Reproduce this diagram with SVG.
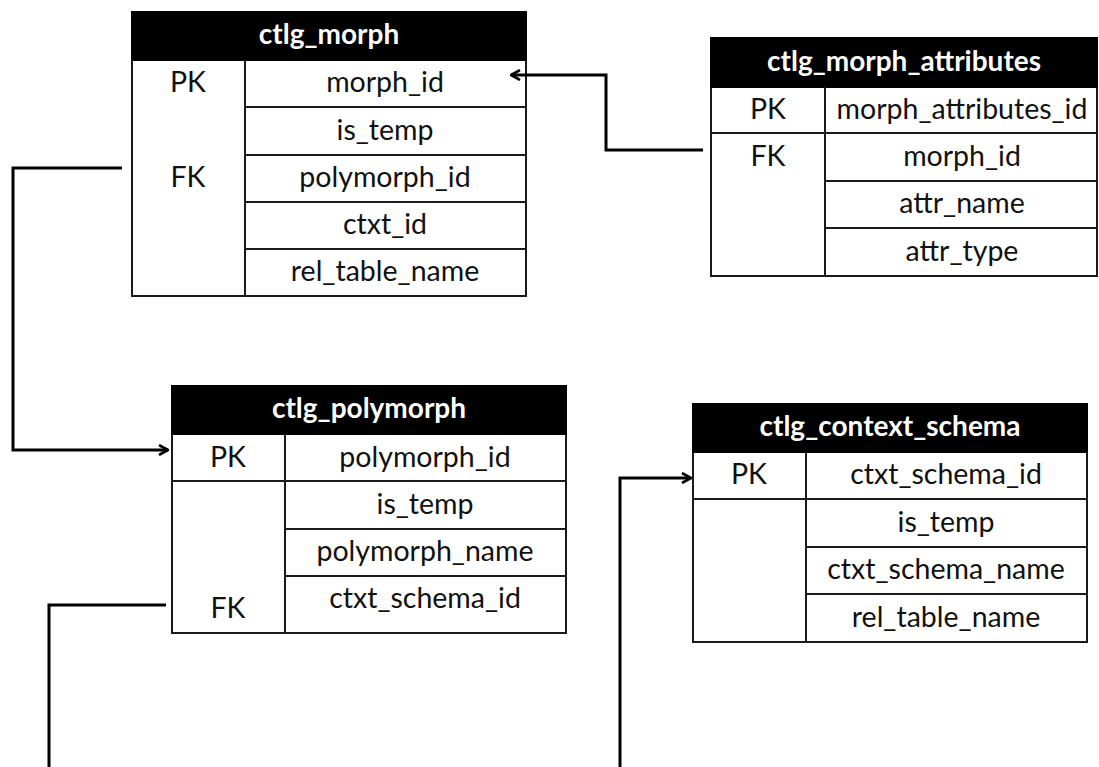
<svg xmlns="http://www.w3.org/2000/svg" width="1099" height="767" viewBox="0 0 1099 767">
  <style>
    .frame { fill: #ffffff; stroke: #1a1a1a; stroke-width: 2; }
    .head { fill: #000000; stroke: #000000; stroke-width: 2; }
    .rule { stroke: #1a1a1a; stroke-width: 2; fill: none; }
    .title { font-family: Lato, "Liberation Sans", sans-serif; font-weight: bold; font-size: 28px; fill: #ffffff; text-anchor: middle; }
    .cell { font-family: Lato, "Liberation Sans", sans-serif; font-size: 28.5px; fill: #111111; text-anchor: middle; }
    .link { stroke: #000000; stroke-width: 3; fill: none; }
  </style>
  <defs>
    <marker id="arrow" viewBox="0 0 12 12" refX="11" refY="6" markerWidth="12" markerHeight="12" markerUnits="userSpaceOnUse" orient="auto">
      <path d="M2,1 L11,6 L2,11" fill="none" stroke="#000000" stroke-width="2.6"/>
    </marker>
  </defs>

  <!-- ctlg_morph -->
  <g id="ctlg_morph">
    <rect class="frame" x="132" y="12" width="394" height="284"/>
    <rect class="head" x="132" y="12" width="394" height="48"/>
    <text class="title" x="329" y="44">ctlg_morph</text>
    <line class="rule" x1="245" y1="60" x2="245" y2="296"/>
    <path class="rule" d="M245,107 H526 M245,155 H526 M245,202 H526 M245,249 H526"/>
    <text class="cell" x="188" y="92">PK</text>
    <text class="cell" x="188" y="187">FK</text>
    <text class="cell" x="385" y="92">morph_id</text>
    <text class="cell" x="385" y="140">is_temp</text>
    <text class="cell" x="385" y="187">polymorph_id</text>
    <text class="cell" x="385" y="234">ctxt_id</text>
    <text class="cell" x="385" y="281">rel_table_name</text>
  </g>

  <!-- ctlg_morph_attributes -->
  <g id="ctlg_morph_attributes">
    <rect class="frame" x="711" y="38" width="386" height="238"/>
    <rect class="head" x="711" y="38" width="386" height="49"/>
    <text class="title" x="904" y="71">ctlg_morph_attributes</text>
    <line class="rule" x1="825" y1="87" x2="825" y2="276"/>
    <path class="rule" d="M711,133 H1097 M825,181 H1097 M825,228 H1097"/>
    <text class="cell" x="768" y="119">PK</text>
    <text class="cell" x="768" y="166">FK</text>
    <text class="cell" x="962" y="119">morph_attributes_id</text>
    <text class="cell" x="962" y="166">morph_id</text>
    <text class="cell" x="962" y="213">attr_name</text>
    <text class="cell" x="962" y="261">attr_type</text>
  </g>

  <!-- ctlg_polymorph -->
  <g id="ctlg_polymorph">
    <rect class="frame" x="172" y="386" width="394" height="247"/>
    <rect class="head" x="172" y="386" width="394" height="48"/>
    <text class="title" x="369" y="418">ctlg_polymorph</text>
    <line class="rule" x1="285" y1="434" x2="285" y2="633"/>
    <path class="rule" d="M172,481 H566 M285,529 H566 M285,576 H566"/>
    <text class="cell" x="228" y="467">PK</text>
    <text class="cell" x="228" y="618">FK</text>
    <text class="cell" x="425" y="467">polymorph_id</text>
    <text class="cell" x="425" y="514">is_temp</text>
    <text class="cell" x="425" y="561">polymorph_name</text>
    <text class="cell" x="425" y="608">ctxt_schema_id</text>
  </g>

  <!-- ctlg_context_schema -->
  <g id="ctlg_context_schema">
    <rect class="frame" x="693" y="404" width="394" height="238"/>
    <rect class="head" x="693" y="404" width="394" height="48"/>
    <text class="title" x="890" y="436">ctlg_context_schema</text>
    <line class="rule" x1="806" y1="452" x2="806" y2="642"/>
    <path class="rule" d="M693,499 H1087 M806,547 H1087 M806,594 H1087"/>
    <text class="cell" x="749" y="484">PK</text>
    <text class="cell" x="946" y="484">ctxt_schema_id</text>
    <text class="cell" x="946" y="532">is_temp</text>
    <text class="cell" x="946" y="579">ctxt_schema_name</text>
    <text class="cell" x="946" y="627">rel_table_name</text>
  </g>

  <!-- foreign key connectors -->
  <g id="connectors">
    <path class="link" d="M122,168 H13 V450 H168" marker-end="url(#arrow)"/>
    <path class="link" d="M703,150 H606 V75 H511" marker-end="url(#arrow)"/>
    <path class="link" d="M166,605 H49 V767"/>
    <path class="link" d="M620,767 V478 H691" marker-end="url(#arrow)"/>
  </g>
</svg>
